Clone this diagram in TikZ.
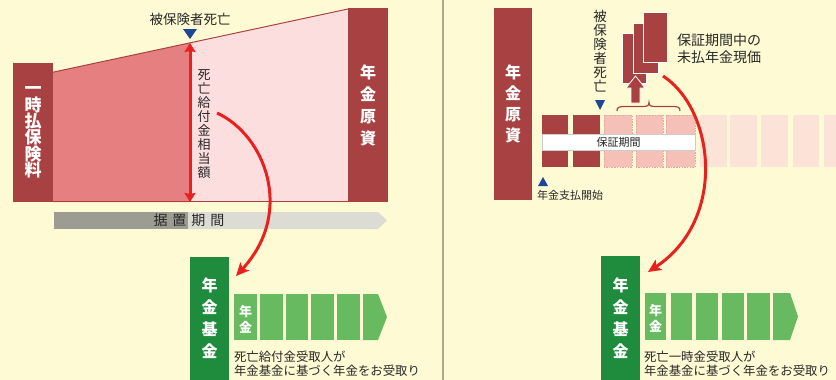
\documentclass[tikz,border=0pt]{standalone}
\usepackage{fontspec}
\setmainfont{Noto Sans CJK JP}
\usetikzlibrary{arrows.meta}
\definecolor{bg}{RGB}{254,251,212}
\definecolor{dred}{RGB}{168,66,66}
\definecolor{mpink}{RGB}{230,128,128}
\definecolor{lpink}{RGB}{252,222,222}
\definecolor{bpink}{RGB}{244,192,184}
\definecolor{bpinkline}{RGB}{228,168,160}
\definecolor{fpink}{RGB}{252,227,216}
\definecolor{dgreen}{RGB}{30,140,60}
\definecolor{lgreen}{RGB}{104,186,96}
\definecolor{arred}{RGB}{232,32,30}
\definecolor{tblue}{RGB}{30,70,150}
\definecolor{gdark}{RGB}{156,156,146}
\definecolor{glight}{RGB}{220,220,212}
\definecolor{txtc}{RGB}{40,40,40}
\definecolor{divc}{RGB}{176,168,140}
\newcommand\jfs[2]{\fontsize{#1}{#2}\selectfont\lineskiplimit=-50pt\lineskip=0pt\relax}
\begin{document}
\begin{tikzpicture}[x=1pt,y=-1pt,
  every node/.style={inner sep=0pt, outer sep=0pt},
  vstack/.style={align=center, text=txtc},
  barbox/.style={fill=dred, text=white, align=center, anchor=north west},
  gbox/.style={fill=dgreen, text=white, align=center, anchor=north west,
    font=\bfseries\jfs{16pt}{22pt}},
  seg/.style={fill=lgreen},
  card/.style={fill=dred, draw=white, line width=0.8pt},
  redcurve/.style={draw=arred, line width=3pt, -{Stealth[length=13pt,width=12pt,inset=3pt]}},
  tri/.style={fill=tblue},
  pinkblk/.style={fill=bpink, draw=bpinkline, dashed, dash pattern=on 1.5pt off 1.2pt, line width=0.6pt},
  fadeblk/.style={fill=fpink},
]
\useasboundingbox (0,0) rectangle (836,380);
\fill[bg] (0,0) rectangle (836,380);
\draw[divc, line width=1.5pt] (443,0) -- (443,380);

% ---------------- left panel ----------------
\fill[mpink] (53,72.2) -- (190,43) -- (190,202) -- (53,202) -- cycle;
\fill[lpink] (190,43) -- (348,9) -- (348,202) -- (190,202) -- cycle;
\draw[dred, line width=1pt] (53,72.2) -- (348,9);
\draw[dred, line width=1.2pt] (53,201.5) -- (348,201.5);

\node[barbox, minimum width=40pt, minimum height=139pt,
  font=\bfseries\jfs{17pt}{16.4pt}] (lbar) at (13,63) {一\\時\\払\\保\\険\\料};
\node[barbox, minimum width=40pt, minimum height=194pt,
  font=\bfseries\jfs{16pt}{22pt}] (rbar) at (348,8) {年\\金\\原\\資};

\node[font=\jfs{13.5pt}{14pt}, text=txtc] (deathL) at (190,19) {被保険者死亡};
\fill[tri] (183,29) -- (197,29) -- (190,39) -- cycle;

\coordinate (dtop) at (190,43);
\coordinate (dbot) at (190,202);
\draw[arred, line width=3pt, {Stealth[length=9pt,width=11pt,inset=1pt]}-{Stealth[length=9pt,width=11pt,inset=1pt]}] (dtop) -- (dbot);
\node[vstack, font=\jfs{13pt}{14pt}] (dlabel) at (204,124) {死\\亡\\給\\付\\金\\相\\当\\額};

% deferral bar
\fill[glight] (188,212) -- (378,212) -- (387,220.5) -- (378,229) -- (188,229) -- cycle;
\fill[gdark] (54,212) rectangle (188,229);
\node[font=\jfs{14pt}{14pt}, text=txtc] (defer) at (189,220.5) {据\hspace{5pt}置\hspace{5pt}期\hspace{5pt}間};

% green
\node[gbox, minimum width=39pt, minimum height=123pt] (gL) at (190,257) {年\\金\\基\\金};
\fill[seg] (234,294) rectangle (257,340);
\fill[seg] (260,294) rectangle (283,340);
\fill[seg] (286,294) rectangle (308,340);
\fill[seg] (311,294) rectangle (334,340);
\fill[seg] (337,294) rectangle (360,340);
\fill[seg] (363,294) -- (378,294) -- (387,317) -- (378,340) -- (363,340) -- cycle;
\node[align=center, text=white, font=\bfseries\jfs{13pt}{16pt}] (nkL) at (245.5,319) {年\\金};
\node[anchor=west, align=left, text=txtc, font=\jfs{12.4pt}{14pt}] (capL) at (234,364) {死亡給付金受取人が\\年金基金に基づく年金をお受取り};

\coordinate (cLs) at (217,113);
\coordinate (cLe) at (236,276);
\draw[redcurve] (cLs) .. controls (265,135) and (295,212) .. (cLe);

% ---------------- right panel ----------------
\node[barbox, minimum width=38pt, minimum height=192pt,
  font=\bfseries\jfs{16pt}{21pt}] (rbar2) at (494,8) {年\\金\\原\\資};

\node[vstack, font=\jfs{13.5pt}{14pt}] (deathR) at (600,51.5) {被\\保\\険\\者\\死\\亡};
\fill[tri] (595,100) -- (605,100) -- (600,110) -- cycle;

% blocks
\fill[dred] (542,115) rectangle (568,167);
\fill[dred] (573,115) rectangle (600,167);
\filldraw[pinkblk] (604,115) rectangle (632,167);
\filldraw[pinkblk] (636,115) rectangle (663,167);
\filldraw[pinkblk] (666,115) rectangle (695,167);
\fill[fadeblk] (700,115) rectangle (727,167);
\fill[fadeblk] (730,115) rectangle (757,167);
\fill[fadeblk] (761,115) rectangle (788,167);
\fill[fadeblk] (793,115) rectangle (819,167);
\fill[fadeblk] (824,115) rectangle (836,167);
\node[fill=white, draw=gray!40, line width=0.5pt, minimum width=153pt, minimum height=16pt,
  font=\jfs{11pt}{11pt}, text=txtc] (hosho) at (618.5,142) {保証期間};

\fill[tri] (538,186) -- (548,186) -- (543,177) -- cycle;
\node[anchor=west, text=txtc, font=\jfs{11pt}{11pt}] (start) at (537,195.5) {年金支払開始};

% stacked cards
\draw[card] (622,33) rectangle (646,83);
\draw[card] (633,23) rectangle (658,73);
\draw[card] (643,12) rectangle (667,62);
\filldraw[fill=dred, draw=white, line width=0.8pt] (631,103) -- (631,88) -- (626,88) -- (635.5,76) -- (645,88) -- (640,88) -- (640,103) -- cycle;
\draw[dred, line width=1.2pt] (617,111) .. controls (617,107) and (619,106.5) .. (626,106.5) -- (642,106.5) .. controls (647,106.5) and (649,106) .. (649,102.5) .. controls (649,106) and (651,106.5) .. (656,106.5) -- (672,106.5) .. controls (678,106.5) and (680,107) .. (680,111);

\node[anchor=west, align=left, text=txtc, font=\jfs{14pt}{17pt}] (unpaid) at (677,48.5) {保証期間中の\\未払年金現価};

% green
\node[gbox, minimum width=39pt, minimum height=124pt] (gR) at (601,256) {年\\金\\基\\金};
\fill[seg] (645,293) rectangle (666,340);
\fill[seg] (671,293) rectangle (692,340);
\fill[seg] (696,293) rectangle (718,340);
\fill[seg] (722,293) rectangle (744,340);
\fill[seg] (747,293) rectangle (770,340);
\fill[seg] (773,293) -- (790,293) -- (798,316.5) -- (790,340) -- (773,340) -- cycle;
\node[align=center, text=white, font=\bfseries\jfs{13pt}{16pt}] (nkR) at (655.5,318) {年\\金};
\node[anchor=west, align=left, text=txtc, font=\jfs{12.4pt}{14pt}] (capR) at (644,364) {死亡一時金受取人が\\年金基金に基づく年金をお受取り};

\coordinate (cRs) at (663,76);
\coordinate (cRe) at (648,272);
\draw[redcurve] (cRs) .. controls (715,110) and (727,220) .. (cRe);
\end{tikzpicture}
\end{document}
